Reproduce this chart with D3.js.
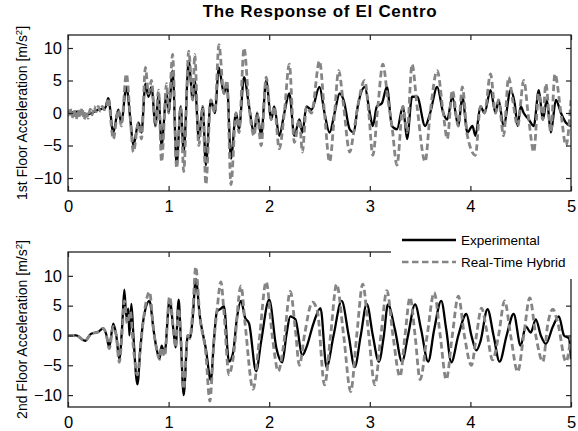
<!DOCTYPE html>
<html>
<head>
<meta charset="utf-8">
<script src="https://cdn.jsdelivr.net/npm/d3@7"></script>
<style>
  body { margin: 0; background: #fff; }
  text { font-family: "Liberation Sans", Arial, sans-serif; fill: #000; }
</style>
</head>
<body>
<svg id="chart" width="578" height="431"></svg>
<script>
/* Data: [time s, acceleration m/s^2] (peaks and troughs) */
const floor1Exp = [
  [0,0],[0.1,0.2],[0.2,-0.2],[0.3,0.5],[0.37,0.8],[0.4,2.3],[0.45,-3],[0.5,0.5],[0.53,-1.5],
  [0.58,4],[0.62,-1],[0.65,-5],[0.7,-1.5],[0.73,-3],[0.77,4.5],[0.8,2.5],[0.83,4],[0.87,-2],
  [0.9,3],[0.93,-5],[0.98,3],[1.0,0],[1.04,6.5],[1.08,-8],[1.12,1],[1.15,-6],[1.2,8],[1.24,2],
  [1.26,5],[1.3,-4],[1.34,1],[1.37,-8],[1.42,2],[1.46,0],[1.5,7],[1.55,3],[1.58,4.5],[1.62,-7],
  [1.67,0],[1.7,-2.5],[1.75,5.5],[1.8,1],[1.85,-3],[1.88,0],[1.92,-3.5],[1.97,5],[2.02,-1],
  [2.05,1],[2.1,-3.5],[2.15,0],[2.2,3],[2.25,-3.5],[2.3,-1],[2.33,-3],[2.37,1],[2.42,0.5],
  [2.5,4],[2.55,0],[2.6,-3],[2.65,0],[2.7,3],[2.74,2],[2.8,-2.5],[2.84,-3],[2.88,1],[2.95,4],
  [3.0,0],[3.03,-2],[3.07,1],[3.12,1.5],[3.17,4],[3.22,-2],[3.27,-2.5],[3.33,1],[3.37,-4],
  [3.42,2.5],[3.47,2.5],[3.55,-2],[3.6,0],[3.67,4],[3.73,0],[3.77,-1],[3.82,2.5],[3.88,-2],
  [3.92,2.5],[3.97,-3],[4.02,-2],[4.05,-3.5],[4.1,1],[4.14,0],[4.2,3.5],[4.25,0],[4.28,2],
  [4.33,-2],[4.4,3.5],[4.44,1.5],[4.47,-2],[4.5,1],[4.53,0],[4.58,-1],[4.63,-2],[4.68,3.5],
  [4.72,-1],[4.76,2],[4.8,-3],[4.85,2],[4.9,0],[4.95,-1.5],[5.0,-2]
];
const floor1Rth = [
  [0,-0.5],[0.02,0.8],[0.04,-0.8],[0.06,0.6],[0.08,-1],[0.1,0.5],[0.12,-0.7],[0.14,0.8],
  [0.16,-1],[0.18,0.3],[0.2,-0.8],[0.22,0.6],[0.24,-0.3],[0.26,1],[0.28,0.2],[0.3,1],[0.32,0.3],
  [0.34,1],[0.36,0.5],[0.38,0.8],[0.4,2.3],[0.45,-4],[0.5,0.5],[0.53,-2],[0.58,6],[0.62,-1],
  [0.65,-6],[0.7,-1.5],[0.73,-4],[0.77,7],[0.8,3],[0.83,5],[0.87,-2],[0.9,3.5],[0.93,-7.5],
  [0.98,4.5],[1.0,0],[1.04,9],[1.08,-8.5],[1.12,1],[1.15,-9],[1.2,9.5],[1.24,2],[1.26,9],
  [1.3,-5],[1.34,1],[1.37,-11],[1.42,2],[1.46,0],[1.5,10.5],[1.55,3],[1.58,5],[1.62,-11],
  [1.67,0],[1.7,-3],[1.75,10],[1.8,1],[1.85,-3.5],[1.88,0],[1.92,-5],[1.97,5.5],[2.02,-1],
  [2.05,1],[2.1,-5.5],[2.15,0],[2.2,7.5],[2.25,-4.5],[2.3,-1],[2.33,-6],[2.37,1],[2.42,0],
  [2.5,8],[2.55,0],[2.6,-7.5],[2.65,0],[2.69,6.5],[2.74,1],[2.8,-6],[2.84,-3],[2.88,1],
  [2.95,5],[2.99,0],[3.03,-6.5],[3.08,1],[3.13,7.5],[3.18,2],[3.22,-2],[3.27,-8],[3.33,1],
  [3.37,-3],[3.42,7.5],[3.47,1],[3.55,-7.5],[3.6,0],[3.67,6.5],[3.73,0],[3.77,-4],[3.82,3.5],
  [3.88,-2],[3.92,4],[3.97,-3.5],[4.05,-6.5],[4.1,1],[4.14,0],[4.2,6],[4.25,0],[4.28,2],
  [4.33,-3.5],[4.38,5.5],[4.42,2],[4.47,-2],[4.53,5],[4.58,-1],[4.63,-6],[4.68,3],[4.72,-1],
  [4.75,4.5],[4.8,-3],[4.84,6],[4.9,0],[4.95,-5],[5.0,2]
];
const floor2Exp = [
  [0,0],[0.08,0],[0.17,-0.9],[0.23,0.3],[0.3,0.6],[0.35,1.2],[0.38,0.2],[0.41,-2],[0.45,2],
  [0.48,0],[0.51,-4],[0.54,2],[0.56,7.7],[0.58,3],[0.6,4.5],[0.61,0],[0.63,5.3],[0.65,0],
  [0.69,-8.2],[0.72,-2],[0.75,2.7],[0.81,5.8],[0.85,1],[0.88,-2.2],[0.91,-3.9],[0.93,-1.7],
  [0.96,-3],[1.01,6],[1.05,0.6],[1.07,-2],[1.1,6],[1.12,0],[1.15,-10],[1.19,0],[1.21,-0.5],
  [1.24,3],[1.27,9.5],[1.31,3.3],[1.37,-2.2],[1.42,-7.5],[1.45,-1],[1.48,4],[1.52,4.5],
  [1.55,4.9],[1.6,-4.4],[1.64,-3],[1.68,3],[1.72,5.8],[1.76,3],[1.8,2],[1.87,-6],[1.92,-1],
  [2.0,6],[2.07,-2],[2.13,-4.5],[2.17,0],[2.21,3.2],[2.26,2.7],[2.33,-3.3],[2.37,-2],[2.44,2],
  [2.51,4.6],[2.57,-5.3],[2.64,0],[2.72,5.8],[2.79,0],[2.85,-5.3],[2.91,0],[2.97,5.3],[3.03,0],
  [3.09,-4.4],[3.14,0],[3.18,5.2],[3.25,1],[3.32,-4.4],[3.38,0],[3.45,5.2],[3.51,1],[3.58,-4.4],
  [3.64,1],[3.71,5.8],[3.76,1],[3.81,-4.5],[3.88,0],[3.96,3.6],[4.01,0],[4.06,-2.5],[4.1,-1],
  [4.17,4.4],[4.23,0],[4.29,-4.4],[4.36,0],[4.43,3.6],[4.5,-1.7],[4.55,1.5],[4.6,0.5],
  [4.65,2.7],[4.7,0],[4.75,-1.4],[4.82,1.5],[4.88,3.2],[4.93,0],[4.98,-0.5],[5.0,-4]
];
const floor2Rth = [
  [0,0],[0.08,0],[0.17,-0.9],[0.23,0.3],[0.3,0.6],[0.35,1.2],[0.38,0.2],[0.41,-2.2],[0.45,1.5],
  [0.48,0],[0.51,-4.5],[0.54,1],[0.56,5.8],[0.59,2],[0.62,4],[0.65,-2],[0.69,-6.6],[0.72,-2],
  [0.75,2.7],[0.81,7.3],[0.85,1],[0.88,-2.2],[0.91,-4],[0.93,-2],[0.96,-3.5],[1.01,6.5],
  [1.05,0.6],[1.07,-2],[1.1,4.5],[1.12,0],[1.15,-9],[1.19,0],[1.21,-0.5],[1.24,4],[1.27,11.5],
  [1.31,3.3],[1.37,-3],[1.41,-11],[1.45,-1],[1.48,4],[1.52,9],[1.55,4],[1.6,-6.6],[1.64,-4],
  [1.72,8.3],[1.76,2],[1.84,-9],[1.9,-1],[1.97,9],[2.03,0],[2.09,-6],[2.14,-2],[2.21,7.4],
  [2.26,1],[2.3,-5],[2.35,0],[2.43,5.6],[2.48,4],[2.55,-8.3],[2.61,0],[2.67,8.6],[2.74,0],
  [2.81,-9.4],[2.87,0],[2.93,8.6],[2.99,0],[3.05,-8.3],[3.11,0],[3.17,7.5],[3.23,0],[3.3,-6.9],
  [3.35,0],[3.4,6.4],[3.45,0],[3.5,-7.4],[3.57,0],[3.64,7.2],[3.7,0],[3.76,-7.4],[3.82,0],
  [3.88,6.6],[3.94,0],[4.01,-5],[4.06,0],[4.11,4.6],[4.16,1],[4.22,-4.1],[4.28,0],[4.34,5.8],
  [4.4,0],[4.47,-6.1],[4.53,0],[4.59,6.3],[4.65,0],[4.72,-4.4],[4.77,2],[4.82,4.4],[4.87,2],
  [4.95,-4.4],[5.0,0]
];
const xTicks = [0, 1, 2, 3, 4, 5];
const yTicks = [-10, -5, 0, 5, 10];
const seriesNames = ['Experimental', 'Real-Time Hybrid'];
const yLabels = ['1st Floor Acceleration [m/s', '2nd Floor Acceleration [m/s'];

const COLORS = ['#000000', '#858585'];
const DASH = '6.5,3.5';

const svg = d3.select('#chart');

svg.append('text')
  .attr('x', 320).attr('y', 17)
  .attr('text-anchor', 'middle')
  .style('font-size', '17px')
  .style('font-weight', 'bold')
  .style('letter-spacing', '0.7px')
  .text('The Response of El Centro');

function panel(box, yDomain, exp, rth, label, id) {
  let x = d3.scaleLinear().domain([0, 5]).range([box.left, box.right]);
  let y = d3.scaleLinear().domain(yDomain).range([box.bottom, box.top]);

  svg.append('clipPath').attr('id', id)
    .append('rect')
    .attr('x', box.left).attr('y', box.top)
    .attr('width', box.right - box.left).attr('height', box.bottom - box.top);

  let line = d3.line()
    .x(d => x(d[0]))
    .y(d => y(d[1]))
    .curve(d3.curveMonotoneX);

  let g = svg.append('g').attr('clip-path', `url(#${id})`);
  g.append('path')
    .datum(exp)
    .attr('d', line)
    .attr('fill', 'none')
    .attr('stroke', COLORS[0])
    .attr('stroke-width', 2.3)
    .attr('stroke-linejoin', 'round');
  g.append('path')
    .datum(rth)
    .attr('d', line)
    .attr('fill', 'none')
    .attr('stroke', COLORS[1])
    .attr('stroke-width', 2.8)
    .attr('stroke-dasharray', DASH);

  // axes, matlab style: ticks inside, on all four sides
  let fmt = d3.format('d');
  let axes = [
    [d3.axisBottom(x).tickValues(xTicks).tickSize(-5).tickPadding(9).tickFormat(fmt), `translate(0,${box.bottom})`],
    [d3.axisTop(x).tickValues(xTicks).tickSize(-5).tickFormat(''), `translate(0,${box.top})`],
    [d3.axisLeft(y).tickValues(yTicks).tickSize(-5).tickPadding(6).tickFormat(fmt), `translate(${box.left},0)`],
    [d3.axisRight(y).tickValues(yTicks).tickSize(-5).tickFormat(''), `translate(${box.right},0)`]
  ];
  axes.forEach(a => {
    let ax = svg.append('g').attr('transform', a[1]).call(a[0]);
    ax.select('.domain').remove();
    ax.selectAll('line').attr('stroke', '#222').attr('stroke-width', 1.2);
    ax.selectAll('text')
      .style('font-size', '16.5px')
      .style('font-family', '"Liberation Sans", Arial, sans-serif')
      .attr('fill', '#000');
  });

  svg.append('rect')
    .attr('x', box.left).attr('y', box.top)
    .attr('width', box.right - box.left).attr('height', box.bottom - box.top)
    .attr('fill', 'none')
    .attr('stroke', '#222')
    .attr('stroke-width', 1.3);

  let cy = (box.top + box.bottom) / 2;
  let t = svg.append('text')
    .attr('transform', `translate(27,${cy}) rotate(-90)`)
    .attr('text-anchor', 'middle')
    .style('font-size', '14px');
  t.append('tspan').text(label);
  t.append('tspan').attr('dy', -5).style('font-size', '9.5px').text('2');
  t.append('tspan').attr('dy', 5).text(']');
}

panel({ left: 68, right: 571, top: 35, bottom: 191 }, [-12, 12], floor1Exp, floor1Rth, yLabels[0], 'clip1');
panel({ left: 68, right: 571, top: 252, bottom: 407 }, [-12, 14], floor2Exp, floor2Rth, yLabels[1], 'clip2');

/* Legend */
let lg = svg.append('g');
lg.append('rect')
  .attr('x', 391).attr('y', 226)
  .attr('width', 187).attr('height', 53)
  .attr('fill', '#fff');
seriesNames.forEach((name, i) => {
  let ly = 240 + i * 22;
  lg.append('line')
    .attr('x1', 402).attr('x2', 456)
    .attr('y1', ly).attr('y2', ly)
    .attr('stroke', COLORS[i])
    .attr('stroke-width', i === 0 ? 2.6 : 2.4)
    .attr('stroke-dasharray', i === 0 ? null : DASH);
  lg.append('text')
    .attr('x', 461).attr('y', ly)
    .attr('dy', '0.36em')
    .style('font-size', '13.5px')
    .text(name);
});
</script>
</body>
</html>
